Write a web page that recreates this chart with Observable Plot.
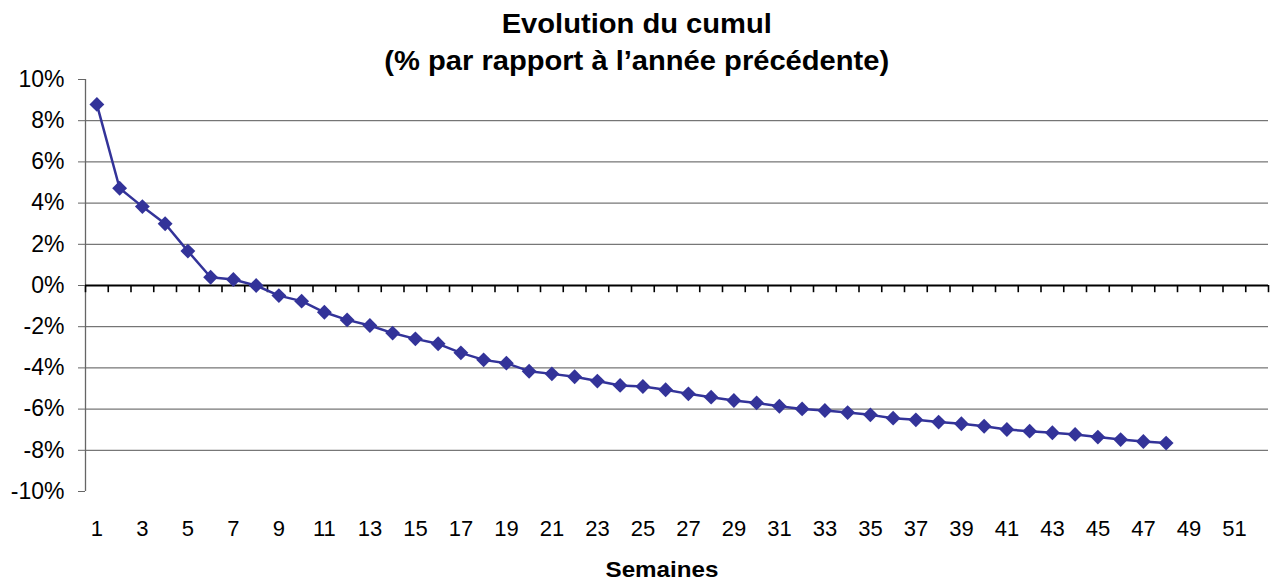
<!DOCTYPE html>
<html>
<head>
<meta charset="utf-8">
<script src="https://cdn.jsdelivr.net/npm/d3@7"></script>
<script src="https://cdn.jsdelivr.net/npm/@observablehq/plot@0.6"></script>
<style>
  html, body { margin: 0; padding: 0; background: #fff; }
  #wrap { position: relative; width: 1273px; height: 581px; overflow: hidden;
          font-family: "Liberation Sans", Arial, sans-serif; color: #000; }
  #title { position: absolute; left: 0; top: 0; width: 1273px; height: 80px; box-sizing: border-box; z-index: 2;
           padding-top: 5px; text-align: center; font-weight: bold; font-size: 28px; line-height: 37px; }
  #title span { display: inline-block; transform: scaleX(1.04); }
  #chart { position: absolute; left: 0; top: 70px; z-index: 1; }
  #xlabel { position: absolute; left: 662px; top: 559px; font-weight: bold; font-size: 22px; line-height: 22px;
            white-space: nowrap; transform: translateX(-50%) scaleX(1.1); }
</style>
</head>
<body>
<div id="wrap">
  <div id="chart"></div>
  <div id="title"><span>Evolution du cumul<br>(% par rapport à l’année précédente)</span></div>
  <div id="xlabel">Semaines</div>
</div>
<script>
// Categories (weeks on the axis)
const axisWeeks = [1,2,3,4,5,6,7,8,9,10,11,12,13,14,15,16,17,18,19,20,21,22,23,24,25,26,
                   27,28,29,30,31,32,33,34,35,36,37,38,39,40,41,42,43,44,45,46,47,48,49,50,51,52];
// Weeks with data
const weeks = [1,2,3,4,5,6,7,8,9,10,11,12,13,14,15,16,17,18,19,20,21,22,23,24,
               25,26,27,28,29,30,31,32,33,34,35,36,37,38,39,40,41,42,43,44,45,46,47,48];
// Evolution du cumul (% vs previous year)
const evolution = [8.79, 4.72, 3.83, 3.00, 1.67, 0.40, 0.29, 0.00, -0.49, -0.76,
                   -1.30, -1.67, -1.94, -2.31, -2.59, -2.83, -3.27, -3.61, -3.77, -4.16,
                   -4.29, -4.43, -4.64, -4.85, -4.90, -5.06, -5.26, -5.42, -5.58, -5.70,
                   -5.86, -5.99, -6.07, -6.17, -6.28, -6.44, -6.52, -6.63, -6.71, -6.83,
                   -6.99, -7.07, -7.15, -7.23, -7.36, -7.48, -7.57, -7.65];
// Tick labels
const xTickLabels = [1,3,5,7,9,11,13,15,17,19,21,23,25,27,29,31,33,35,37,39,41,43,45,47,49,51];
const yTickLabels = [10,8,6,4,2,0,-2,-4,-6,-8,-10];
const gridLevels = [8,6,4,2,-2,-4,-6,-8];

const data = weeks.map((w, i) => ({week: w, value: evolution[i]}));
const weekEdges = axisWeeks.map(w => w - 0.5).concat([axisWeeks[axisWeeks.length - 1] + 0.5]);
const zeroTickDepth = 0.35; // percent units (~7px)

const chart = Plot.plot({
  width: 1273,
  height: 475,
  marginLeft: 85,
  marginRight: 5,
  marginTop: 9,
  marginBottom: 54,
  x: {type: "linear", domain: [weekEdges[0], weekEdges[weekEdges.length - 1]], label: null},
  y: {domain: [-10, 10], label: null},
  style: {fontFamily: "'Liberation Sans', Arial, sans-serif", color: "#000", background: "transparent", overflow: "visible"},
  marks: [
    Plot.ruleY(gridLevels, {stroke: "#555", strokeWidth: 1}),
    Plot.ruleX([weekEdges[0]], {y1: -10, y2: 10, stroke: "#666", strokeWidth: 1.3}),
    Plot.ruleY([0], {stroke: "#000", strokeWidth: 2}),
    Plot.ruleX(weekEdges, {y1: 0, y2: -zeroTickDepth, stroke: "#000", strokeWidth: 1.6}),
    Plot.axisY({ticks: yTickLabels, tickFormat: d => `${d}%`, tickSize: 7, tickPadding: 14,
                fontSize: 23, stroke: "#666", label: null}),
    Plot.axisX({ticks: xTickLabels, tickFormat: d => String(d), tickSize: 0, tickPadding: 29,
                fontSize: 22, label: null}),
    Plot.line(data, {x: "week", y: "value", stroke: "#333399", strokeWidth: 2.5}),
    Plot.dot(data, {x: "week", y: "value", symbol: "diamond2", r: 6.7, fill: "#333399"})
  ]
});
document.getElementById("chart").appendChild(chart);
</script>
</body>
</html>
